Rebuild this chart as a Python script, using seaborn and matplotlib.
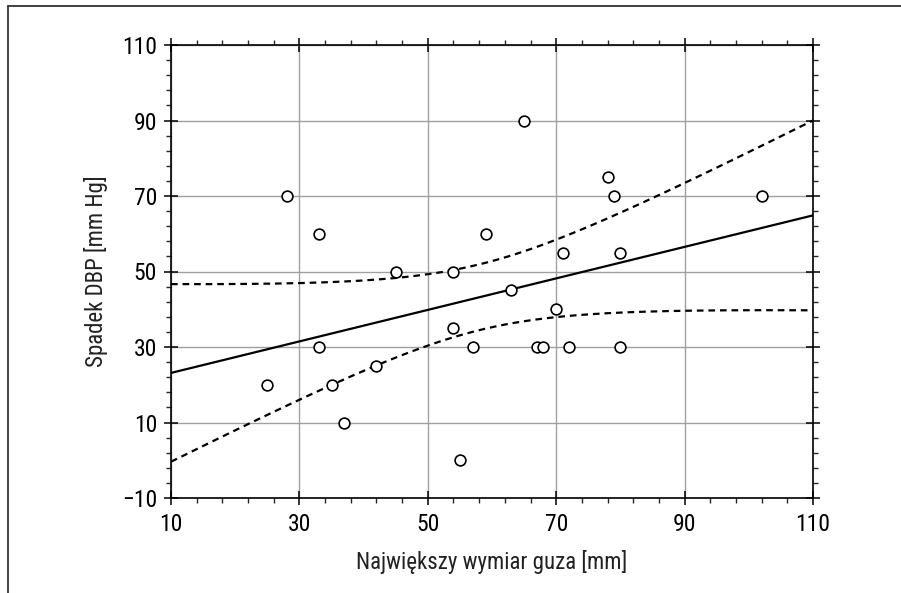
import numpy as np
import pandas as pd
import matplotlib
matplotlib.use("Agg")
import matplotlib.pyplot as plt
import seaborn as sns
from matplotlib.ticker import MultipleLocator
from matplotlib.lines import Line2D
from matplotlib import font_manager

# ---- data ----
tumor_mm = [25, 28, 33, 33, 35, 37, 42, 45, 54, 54, 55, 57, 59, 63, 65,
            67, 68, 70, 71, 72, 78, 79, 80, 80, 102]
dbp_drop = [20, 70, 60, 30, 20, 10, 25, 50, 50, 35, 0, 30, 60, 45, 90,
            30, 30, 40, 55, 30, 75, 70, 55, 30, 70]
x_ticks = [10, 30, 50, 70, 90, 110]
y_ticks = [-10, 10, 30, 50, 70, 90, 110]
x_label = "Największy wymiar guza [mm]"
y_label = "Spadek DBP [mm Hg]"
T_CRIT = 2.069  # t(0.975, df=23)

sns.set_theme(style="ticks")
available = {f.name for f in font_manager.fontManager.ttflist}
families = [f for f in ['Roboto Condensed', 'Liberation Sans Narrow', 'Roboto',
                        'Liberation Sans'] if f in available] + ['DejaVu Sans']
plt.rcParams['font.family'] = families

df = pd.DataFrame({"x": tumor_mm, "y": dbp_drop})

# linear regression with 95% confidence band for the mean
x = df["x"].to_numpy(float)
y = df["y"].to_numpy(float)
n = len(x)
slope, intercept = np.polyfit(x, y, 1)
resid = y - (slope * x + intercept)
s = np.sqrt(np.sum(resid ** 2) / (n - 2))
sxx = np.sum((x - x.mean()) ** 2)
xs = np.linspace(x_ticks[0], x_ticks[-1], 201)
fit = intercept + slope * xs
half = T_CRIT * s * np.sqrt(1.0 / n + (xs - x.mean()) ** 2 / sxx)
band = pd.DataFrame({"x": xs, "fit": fit, "lo": fit - half, "hi": fit + half})

fig = plt.figure(figsize=(9.01, 5.93), dpi=100)
ax = fig.add_axes([171 / 901, 1 - 498 / 593, (813 - 171) / 901, (498 - 45) / 593])

ax.grid(True, which='major', color='#a0a0a0', linewidth=1.0)
ax.set_axisbelow(True)

sns.lineplot(data=band, x="x", y="fit", ax=ax, color='black', linewidth=1.6, zorder=3)
sns.lineplot(data=band, x="x", y="hi", ax=ax, color='black', linewidth=1.6,
             linestyle=(0, (3, 2.2)), zorder=3)
sns.lineplot(data=band, x="x", y="lo", ax=ax, color='black', linewidth=1.6,
             linestyle=(0, (3, 2.2)), zorder=3)
sns.scatterplot(data=df, x="x", y="y", ax=ax, s=60, facecolor='white',
                edgecolor='black', linewidth=1.2, zorder=4)

ax.set_xlim(x_ticks[0], x_ticks[-1])
ax.set_ylim(y_ticks[0], y_ticks[-1])
ax.set_xticks(x_ticks)
ax.set_yticks(y_ticks)
ax.xaxis.set_minor_locator(MultipleLocator(4, offset=2))
ax.yaxis.set_minor_locator(MultipleLocator(4, offset=2))

for sp in ax.spines.values():
    sp.set_visible(True)
    sp.set_color('black')
    sp.set_linewidth(1.2)

ax.tick_params(which='major', direction='inout', length=10, width=1.1,
               top=True, right=True, labelsize=17, colors='black', pad=6)
ax.tick_params(which='minor', direction='out', length=3.5, width=1.0,
               top=True, right=True)
ax.tick_params(axis='y', which='major', pad=5)

ax.set_xlabel(x_label, fontsize=16.5, color='#222222', labelpad=10)
ax.set_ylabel(y_label, fontsize=16.5, color='#222222', labelpad=10)

# outer frame (top and left edges)
fig.add_artist(Line2D([8 / 901, 1.0], [1 - 6 / 593, 1 - 6 / 593],
                      transform=fig.transFigure, color='#333333', linewidth=1.3))
fig.add_artist(Line2D([8 / 901, 8 / 901], [0.0, 1 - 6 / 593],
                      transform=fig.transFigure, color='#333333', linewidth=1.3))

fig.savefig("out.png", dpi=100, facecolor='white')
